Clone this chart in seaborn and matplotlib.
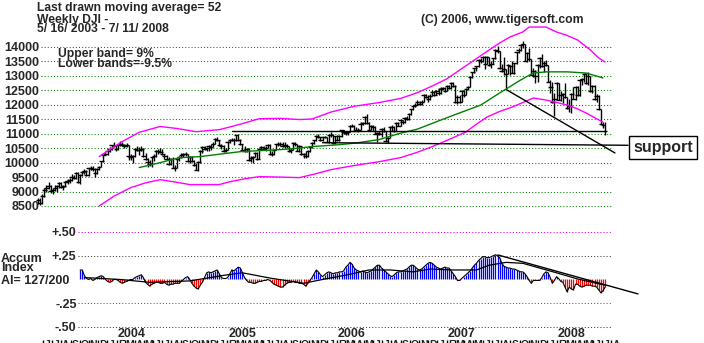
import numpy as np
import pandas as pd
import matplotlib
matplotlib.use("Agg")
import matplotlib.pyplot as plt
import matplotlib.transforms as mtransforms
import seaborn as sns

# ---------------- data ----------------
start_date = "2003-05-16"
close_vals = [
    8713, 8601, 8850, 9063, 9117, 9201, 9011, 9070, 9119, 9188, 9285, 9153, 9191, 9321, 9348, 9416, 9503, 9471, 9644, 9313, 9572, 9674, 9721, 9582, 9801, 9810, 9768, 9629, 9782, 9862, 10042, 10278, 10305,
    10409, 10458, 10600, 10568, 10488, 10593, 10628, 10619, 10584, 10595, 10240, 10186, 10212, 10470, 10442, 10452, 10472, 10226, 10118, 10012, 9967, 10188, 10243, 10410, 10417, 10372, 10283, 10214, 10140, 9962, 10140, 9815, 9826, 10110, 10196, 10260, 10314, 10284, 10047, 10193, 10055, 9933, 9758, 10027, 10387, 10540, 10456, 10522, 10592, 10543, 10661, 10827, 10783,
    10603, 10558, 10392, 10427, 10716, 10796, 10785, 10766, 10940, 10774, 10629, 10442, 10404, 10461, 10087, 10157, 10193, 10345, 10140, 10471, 10542, 10460, 10512, 10623, 10297, 10303, 10449, 10640, 10651, 10640, 10558, 10600, 10559, 10397, 10447, 10678, 10641, 10419, 10568, 10292, 10287, 10215, 10402, 10530, 10686, 10766, 10931, 10877, 10778, 10875, 10883, 10718,
    10959, 10960, 10667, 10907, 10793, 10919, 11115, 11061, 11021, 11076, 11279, 11280, 11109, 11120, 11137, 11347, 11367, 11577, 11380, 11144, 11278, 11247, 11000, 11015, 10989, 11150, 11090, 10739, 10868, 11220, 11241, 11089, 11381, 11284, 11464, 11392, 11560, 11508, 11679, 11850, 11961, 12002, 12090, 12031, 12108, 12342, 12280, 12194, 12307, 12445, 12343, 12463,
    12398, 12556, 12565, 12487, 12653, 12580, 12768, 12647, 12114, 12276, 12110, 12481, 12354, 12560, 12612, 12961, 13120, 13265, 13326, 13556, 13507, 13668, 13424, 13639, 13360, 13409, 13611, 13907, 13851, 13265, 13182, 13240, 13079, 13379, 13358, 13113, 13442, 13821, 13896, 14066, 14093, 13522, 13807, 13595, 13043, 13177, 12981, 13372, 13625, 13340, 13451, 13366,
    12800, 12606, 12100, 12207, 12743, 12182, 12348, 12381, 12266, 11894, 11951, 12361, 12216, 12609, 12325, 12849, 12891, 13058, 12745, 12986, 12480, 12638, 12210, 12307, 11843, 11346, 11288, 11101,
]
high_vals = [
    8790, 8790, 8900, 9110, 9220, 9320, 9240, 9120, 9230, 9220, 9340, 9320, 9240, 9350, 9430, 9460, 9590, 9560, 9690, 9670, 9610, 9700, 9790, 9760, 9830, 9880, 9870, 9800, 9800, 9900, 10060, 10300, 10360,
    10460, 10540, 10620, 10720, 10600, 10620, 10740, 10700, 10660, 10680, 10600, 10300, 10260, 10500, 10570, 10530, 10570, 10490, 10350, 10150, 10100, 10210, 10290, 10430, 10470, 10490, 10470, 10300, 10270, 10180, 10170, 10200, 9920, 10130, 10230, 10320, 10330, 10370, 10290, 10220, 10240, 10100, 9970, 10050, 10420, 10560, 10580, 10540, 10620, 10640, 10700, 10860, 10870,
    10790, 10660, 10600, 10500, 10740, 10820, 10850, 10840, 10960, 10980, 10810, 10650, 10580, 10500, 10490, 10240, 10220, 10380, 10380, 10490, 10560, 10580, 10560, 10650, 10640, 10390, 10480, 10660, 10710, 10720, 10710, 10700, 10650, 10580, 10500, 10700, 10720, 10660, 10600, 10590, 10340, 10400, 10440, 10560, 10700, 10790, 10950, 10980, 10900, 10900, 10920, 10900,
    10980, 11050, 10980, 10930, 10960, 10940, 11130, 11140, 11110, 11100, 11300, 11330, 11300, 11240, 11200, 11400, 11420, 11600, 11670, 11400, 11300, 11300, 11250, 11060, 11100, 11190, 11230, 11100, 10900, 11250, 11290, 11260, 11400, 11400, 11480, 11480, 11580, 11620, 11720, 11870, 11990, 12050, 12170, 12130, 12160, 12360, 12370, 12330, 12360, 12510, 12470, 12510,
    12580, 12600, 12610, 12600, 12680, 12700, 12800, 12800, 12670, 12330, 12340, 12500, 12520, 12590, 12650, 12990, 13150, 13290, 13350, 13570, 13630, 13700, 13690, 13680, 13650, 13520, 13630, 13920, 14020, 13870, 13400, 13660, 13250, 13400, 13390, 13500, 13460, 13840, 13950, 14100, 14200, 14100, 13830, 13950, 13600, 13290, 13200, 13400, 13650, 13750, 13500, 13560,
    13370, 12850, 12800, 12400, 12790, 12760, 12480, 12420, 12750, 12280, 12200, 12400, 12600, 12640, 12660, 12880, 12920, 13100, 13100, 13120, 13000, 12680, 12700, 12370, 12330, 11850, 11400, 11400,
]
low_vals = [
    8560, 8520, 8560, 8800, 8990, 9100, 8960, 8930, 9030, 9000, 9130, 9130, 9050, 9150, 9270, 9310, 9380, 9420, 9430, 9280, 9260, 9540, 9620, 9540, 9550, 9750, 9700, 9510, 9600, 9740, 9840, 10020, 10250,
    10280, 10380, 10420, 10540, 10400, 10440, 10560, 10580, 10510, 10550, 10100, 10100, 10000, 10200, 10400, 10280, 10390, 10200, 10100, 9850, 9900, 9850, 10050, 10200, 10300, 10330, 10260, 10140, 10080, 9920, 9930, 9800, 9710, 9800, 10070, 10150, 10200, 10230, 10030, 9970, 10030, 9880, 9740, 9710, 10000, 10340, 10420, 10400, 10410, 10440, 10530, 10640, 10760,
    10580, 10480, 10370, 10360, 10420, 10670, 10740, 10600, 10740, 10760, 10600, 10420, 10380, 10380, 10070, 10010, 10000, 10180, 10100, 10120, 10440, 10440, 10400, 10490, 10280, 10220, 10250, 10430, 10580, 10580, 10540, 10510, 10520, 10380, 10350, 10420, 10580, 10400, 10380, 10260, 10160, 10160, 10200, 10380, 10510, 10650, 10750, 10840, 10740, 10750, 10840, 10700,
    10680, 10900, 10650, 10660, 10760, 10740, 10900, 11000, 10950, 10950, 11060, 11240, 11090, 11080, 11050, 11120, 11300, 11350, 11350, 11100, 11120, 11080, 10980, 10700, 10950, 10900, 11060, 10720, 10680, 10860, 11100, 11050, 11080, 11250, 11280, 11320, 11380, 11470, 11490, 11650, 11830, 11920, 11980, 11980, 12000, 12090, 12250, 12080, 12180, 12300, 12320, 12330,
    12340, 12370, 12500, 12450, 12470, 12560, 12550, 12620, 12050, 12040, 12050, 12100, 12280, 12340, 12500, 12600, 12940, 13100, 13180, 13320, 13440, 13480, 13250, 13400, 13340, 13260, 13400, 13580, 13800, 13230, 13150, 13030, 12520, 13070, 13020, 13090, 13080, 13400, 13780, 13860, 13980, 13500, 13480, 13500, 13030, 12950, 12740, 12780, 13280, 13310, 13150, 13330,
    12780, 12410, 12060, 11630, 12180, 12150, 12130, 12070, 12240, 11860, 11750, 11730, 12190, 12180, 12300, 12310, 12690, 12800, 12730, 12700, 12460, 12410, 12180, 12080, 11830, 11330, 11210, 10960,
]

# 52-week moving average (green) and bands (magenta), read at week numbers
ma_weeks = [48, 58, 67, 77, 96, 115, 124, 129, 143, 151, 162, 172, 180, 191, 200, 210, 219, 229, 235, 241, 251, 260, 268]
ma_vals = [9830, 10000, 10170, 10210, 10380, 10450, 10500, 10550, 10620, 10680, 10800, 11020, 11160, 11470, 11720, 11990, 12410, 12860, 13100, 13140, 13140, 13100, 12930]
upper_weeks = [29, 35, 40, 48, 58, 66, 75, 86, 96, 105, 115, 124, 130, 139, 150, 162, 172, 180, 187, 194, 200, 210, 219, 224, 230, 233, 241, 246, 251, 256, 262, 266, 269]
upper_vals = [10210, 10500, 10730, 11050, 11250, 11180, 11070, 11140, 11330, 11520, 11530, 11490, 11510, 11750, 11950, 12080, 12220, 12420, 12650, 12900, 13200, 13700, 14140, 14350, 14520, 14690, 14690, 14520, 14400, 14240, 13900, 13620, 13480]
lower_weeks = [29, 36, 44, 51, 58, 65, 72, 86, 91, 98, 105, 115, 124, 131, 139, 150, 162, 172, 180, 187, 195, 203, 208, 213, 219, 225, 235, 241, 246, 251, 256, 260, 265, 268]
lower_vals = [8500, 8840, 9135, 9300, 9410, 9330, 9240, 9240, 9340, 9440, 9516, 9500, 9481, 9600, 9758, 9900, 10035, 10173, 10360, 10554, 10800, 11060, 11330, 11578, 11770, 11924, 12235, 12166, 12080, 11993, 11860, 11716, 11520, 11400]

# hand-drawn lines on the price chart (week, price)
line_upper_weeks = [92, 269]
line_upper_vals = [11080, 11080]
line_support_weeks = [135, 279.9]
line_support_vals = [10690, 10600]
line_diag_weeks = [222.5, 273.7]
line_diag_vals = [12512, 10335]

price_ticks = [8500, 9000, 9500, 10000, 10500, 11000, 11500, 12000, 12500, 13000, 13500, 14000]

# Accumulation index (weekly, from week 20)
ai_first_week = 20
ai_vals = [
    0.10, 0.10, 0.04, 0.01, 0.00, 0.01, -0.01, 0.00, 0.02, 0.03,
    0.04, 0.03, 0.00, -0.02, -0.03, -0.02, 0.00, 0.00, -0.01, -0.03,
    -0.04, -0.03, -0.02, -0.01, 0.00, 0.00, 0.02, 0.03, 0.04, 0.05,
    0.02, -0.03, -0.05, -0.07, -0.05, -0.04, -0.03, -0.03, -0.04, -0.04,
    -0.03, -0.05, -0.06, -0.05, -0.05, -0.04, -0.04, -0.04, -0.02, 0.00,
    0.02, 0.03, 0.00, -0.04, -0.07, -0.09, -0.10, -0.06, -0.03, 0.02,
    0.07, 0.08, 0.07, 0.08, 0.09, 0.10, 0.06, 0.02, 0.01, 0.01,
    0.02, 0.06, 0.10, 0.09, 0.11, 0.13, 0.12, 0.07, 0.02, -0.01,
    -0.03, -0.03, -0.04, -0.04, -0.03, -0.02, -0.02, -0.01, -0.01, 0.00,
    -0.01, -0.03, -0.05, -0.06, -0.07, -0.08, -0.08, -0.06, -0.04, -0.03,
    -0.03, -0.02, -0.03, -0.03, -0.04, -0.04, -0.05, -0.07, -0.04, -0.01,
    0.02, 0.06, 0.10, 0.08, 0.05, 0.03, 0.05, 0.07, 0.08, 0.07,
    0.06, 0.07, 0.07, 0.08, 0.08, 0.09, 0.13, 0.15, 0.18, 0.16,
    0.12, 0.10, 0.09, 0.08, 0.09, 0.08, 0.07, 0.08, 0.09, 0.11,
    0.13, 0.15, 0.15, 0.12, 0.10, 0.08, 0.06, 0.04, 0.03, 0.05,
    0.07, 0.08, 0.08, 0.09, 0.10, 0.11, 0.13, 0.15, 0.15, 0.13,
    0.11, 0.10, 0.11, 0.13, 0.15, 0.17, 0.18, 0.17, 0.15, 0.13,
    0.12, 0.11, 0.12, 0.13, 0.12, 0.12, 0.09, 0.06, 0.03, -0.01,
    -0.01, 0.01, 0.03, 0.05, 0.07, 0.09, 0.12, 0.15, 0.17, 0.20,
    0.22, 0.24, 0.24, 0.23, 0.23, 0.24, 0.25, 0.26, 0.25, 0.23,
    0.17, 0.14, 0.13, 0.12, 0.12, 0.11, 0.11, 0.10, 0.09, 0.08,
    0.08, 0.06, 0.03, -0.01, -0.04, -0.01, -0.01, -0.01, -0.01, 0.02,
    0.06, 0.08, 0.07, 0.02, -0.04, -0.01, 0.03, 0.01, -0.02, -0.03,
    -0.08, -0.13, -0.08, -0.10, -0.11, -0.05, -0.05, -0.07, -0.08, -0.07,
    -0.06, -0.06, -0.06, -0.07, -0.07, -0.08, -0.11, -0.14, -0.12, -0.08,
]
ai_ma_weeks = [22, 39, 53, 72, 90, 97, 110, 126, 135, 147, 157, 167, 178, 186, 197, 208, 214, 222, 230, 238, 246, 256, 265, 269]
ai_ma_vals = [0.02, 0.0, -0.03, -0.015, 0.05, 0.07, 0.015, -0.04, 0.0, 0.05, 0.10, 0.10, 0.08, 0.11, 0.10, 0.10, 0.15, 0.18, 0.17, 0.12, 0.07, 0.005, -0.04, -0.06]
ai_trend_weeks = [218.2, 284.6]
ai_trend_vals = [0.258, -0.152]
ai_ticks = [0.5, 0.25, -0.25, -0.5]
ai_tick_labels = ["+.50", "+.25", "-.25", "-.50"]

year_labels = ["2004", "2005", "2006", "2007", "2008"]
month_letters = ["J", "F", "M", "A", "M", "J", "J", "A", "S", "O", "N", "D"]

# ---------------- figure ----------------
sns.set_style("white")
plt.rcParams["font.family"] = ["Liberation Sans", "DejaVu Sans"]
plt.rcParams["font.weight"] = "bold"

W, H = 704, 343
fig = plt.figure(figsize=(W / 100, H / 100), dpi=100)
fig.patch.set_facecolor("white")


def px_axes(l, t, r, b):
    return fig.add_axes([l / W, 1 - b / H, (r - l) / W, (b - t) / H])


ax = px_axes(41, 18, 612, 212)
axa = px_axes(78, 222, 612, 334)

df = pd.DataFrame({"close": close_vals, "high": high_vals, "low": low_vals})
df["date"] = pd.date_range(start_date, periods=len(df), freq="7D")
df["week"] = np.arange(len(df))

# price panel
for v in price_ticks:
    ax.axhline(v, color="#008000", lw=0.75, ls=(0, (1, 2)), zorder=0)
ax.vlines(df["week"], df["low"], df["high"], color="black", lw=1.0, clip_on=False, zorder=3)
ax.hlines(df["close"], df["week"] - 1.1, df["week"] + 1.1, color="black", lw=1.0, clip_on=False, zorder=3)

sns.lineplot(x=ma_weeks, y=ma_vals, ax=ax, color="#008000", lw=1.0, sort=False, zorder=4)
sns.lineplot(x=upper_weeks, y=upper_vals, ax=ax, color="#FF00FF", lw=1.0, sort=False, zorder=4)
sns.lineplot(x=lower_weeks, y=lower_vals, ax=ax, color="#FF00FF", lw=1.0, sort=False, zorder=4)
for wk, vals in [(line_upper_weeks, line_upper_vals), (line_support_weeks, line_support_vals),
                 (line_diag_weeks, line_diag_vals)]:
    ax.plot(wk, vals, color="black", lw=1.0, clip_on=False, zorder=5)

ax.set_xlim(1.42, 272.3)
ax.set_ylim(8292, 15003)
ax.set_yticks(price_ticks)
ax.set_yticklabels([str(v) for v in price_ticks], fontsize=9, fontweight="bold")
ax.tick_params(axis="y", length=0, pad=1)
ax.set_xticks([])
for s in ax.spines.values():
    s.set_visible(False)
ax.set_facecolor("none")

# accumulation panel
ai_weeks = np.arange(ai_first_week, ai_first_week + len(ai_vals))
ai = np.array(ai_vals)
grid_cols = {0.5: "#E000E0", 0.25: "#404040", -0.25: "#E000E0", -0.5: "#404040"}
for v in ai_ticks:
    axa.axhline(v, color=grid_cols[v], lw=0.75, ls=(0, (1, 2)), zorder=0)
pos = ai >= 0
axa.vlines(ai_weeks[pos], 0, ai[pos], color="#0000FF", lw=0.9, zorder=2)
axa.vlines(ai_weeks[~pos], 0, ai[~pos], color="#FF0000", lw=0.9, zorder=2)
sns.lineplot(x=ai_weeks, y=ai, ax=axa, color="black", lw=0.8, sort=False, zorder=3)
sns.lineplot(x=ai_ma_weeks, y=ai_ma_vals, ax=axa, color="black", lw=0.9, sort=False, zorder=3)
axa.plot(ai_trend_weeks, ai_trend_vals, color="black", lw=1.0, clip_on=False, zorder=4)

axa.set_xlim(18.98, 272.3)
axa.set_ylim(-0.574, 0.605)
axa.set_yticks(ai_ticks)
axa.set_yticklabels(ai_tick_labels, fontsize=9, fontweight="bold")
axa.tick_params(axis="y", length=0, pad=1)
axa.set_xticks([])
for s in axa.spines.values():
    s.set_visible(False)
axa.set_facecolor("none")

# year labels and month row
t0 = pd.Timestamp(start_date)
for y in year_labels:
    wk = (pd.Timestamp(f"{y}-01-01") - t0).days / 7 + 11.7
    axa.text(wk, -0.574, y, ha="center", va="center", fontsize=9, fontweight="bold", clip_on=False)
trans = mtransforms.blended_transform_factory(axa.transData, fig.transFigure)
months = pd.date_range("2003-06-01", "2008-08-01", freq="MS")
month_wk = np.array([(m - t0).days / 7 for m in months])
axa.vlines(month_wk, 1 - 343.5 / H, 1 - 339.5 / H, transform=trans, color="black", lw=1.0, clip_on=False)
for m, wk in zip(months, month_wk):
    axa.text(wk + 2.2, 1 - 340.5 / H, month_letters[m.month - 1], transform=trans, ha="center",
             va="top", fontsize=7.5, fontweight="bold", clip_on=False)

# texts
def ftext(x, y, s, **kw):
    kw.setdefault("fontsize", 8.7)
    kw.setdefault("fontweight", "bold")
    return fig.text(x / W, 1 - y / H, s, va="top", ha="left", **kw)


ftext(37, 1.5, "Last drawn moving average= 52")
ftext(37, 14.5, "Weekly DJI -\n5/ 16/ 2003 - 7/ 11/ 2008", linespacing=0.66)
ftext(421, 13.5, "(C) 2006, www.tigersoft.com")
ftext(58, 48.5, "Upper band= 9%\nLower bands=-9.5%", linespacing=0.7)
ftext(1, 253.5, "Accum\nIndex", fontsize=9, linespacing=0.66)
ftext(1, 274.5, "AI= 127/200", fontsize=9)

fig.text(663 / W, 1 - 147.5 / H, "support", ha="center", va="center", fontsize=11.5, fontweight="bold",
         bbox=dict(boxstyle="square,pad=0.25", fc="white", ec="black", lw=1.0))

fig.savefig("out.png", dpi=100, facecolor="white")
